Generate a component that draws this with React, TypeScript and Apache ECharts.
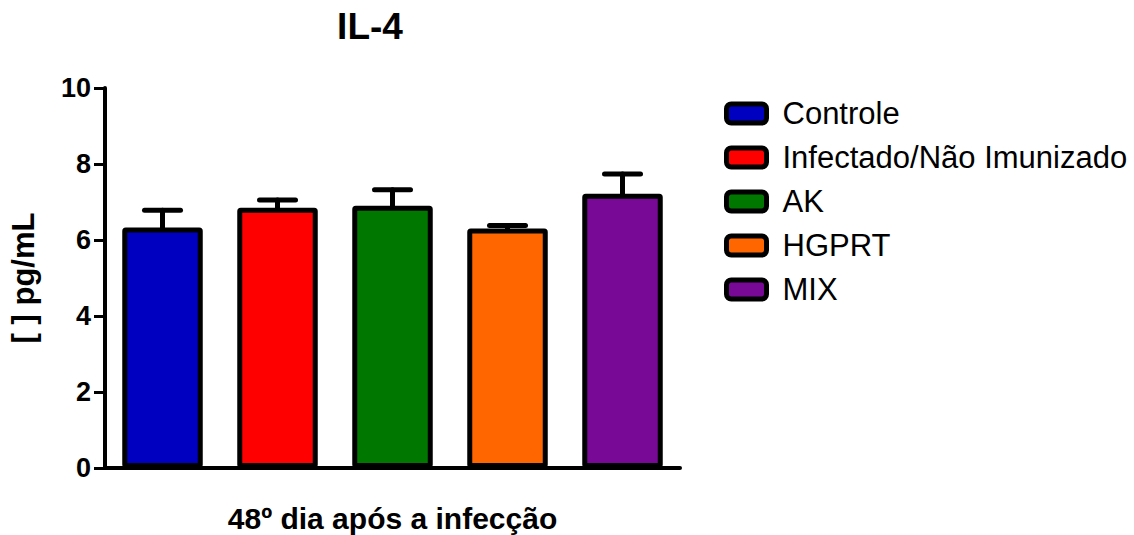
import React, { useEffect, useRef } from "react";
import * as echarts from "echarts";

const categories = ["Controle", "Infectado/Não Imunizado", "AK", "HGPRT", "MIX"];
const means = [6.33, 6.85, 6.9, 6.3, 7.22];
const errors = [0.45, 0.2, 0.42, 0.08, 0.52];
const colors = ["#0000C0", "#FF0000", "#007800", "#FF6600", "#780896"];
const yTicks = [0, 2, 4, 6, 8, 10];

export default function App() {
  const ref = useRef<HTMLDivElement>(null);
  useEffect(() => {
    if (!ref.current) return;
    const chart = echarts.init(ref.current, null, { renderer: "svg" });
    const font = "'Liberation Sans', Arial, sans-serif";
    const barSeries = categories.map((name, i) => ({
      name,
      type: "bar",
      barGap: "-100%",
      barCategoryGap: "30%",
      data: categories.map((_, j) => (j === i ? means[i] : "-")),
      itemStyle: { color: colors[i], borderColor: "#000", borderWidth: 5, borderRadius: 1 },
      z: 3,
    }));
    const errSeries = {
      type: "custom",
      name: "err",
      z: 2,
      data: means.map((m, i) => [i, m, m + errors[i]]),
      renderItem: (params: any, api: any) => {
        const x = api.value(0);
        const top = api.coord([x, api.value(1)]);
        const hi = api.coord([x, api.value(2)]);
        const style = { stroke: "#000", lineWidth: 5, lineCap: "round" };
        return {
          type: "group",
          children: [
            { type: "line", shape: { x1: top[0], y1: top[1], x2: hi[0], y2: hi[1] }, style },
            { type: "line", shape: { x1: hi[0] - 18, y1: hi[1], x2: hi[0] + 18, y2: hi[1] }, style },
          ],
        };
      },
    };
    chart.setOption({
      animation: false,
      title: {
        text: "IL-4",
        left: 365,
        textAlign: "center",
        top: 3,
        textStyle: { fontFamily: font, fontWeight: "bold", fontSize: 37, color: "#000" },
      },
      legend: {
        orient: "vertical",
        left: 719,
        top: 93,
        itemWidth: 40,
        itemHeight: 19,
        itemGap: 13,
        icon: "roundRect",
        data: categories,
        itemStyle: { borderColor: "#000", borderWidth: 5 },
        textStyle: { fontFamily: font, fontSize: 31, color: "#000", padding: [0, 0, 0, 11] },
      },
      grid: { left: 105, right: 454, top: 88, bottom: 67, outerBoundsMode: "none", containLabel: false },
      xAxis: {
        type: "category",
        data: categories,
        name: "48º dia após a infecção",
        nameLocation: "middle",
        nameGap: 37,
        nameTextStyle: { fontFamily: font, fontWeight: "bold", fontSize: 30, lineHeight: 26, color: "#000" },
        axisLine: { lineStyle: { color: "#000", width: 4 } },
        axisTick: { alignWithLabel: true, length: 10, lineStyle: { color: "#000", width: 3 } },
        axisLabel: { show: false },
      },
      yAxis: {
        type: "value",
        min: yTicks[0],
        max: yTicks[yTicks.length - 1],
        interval: 2,
        name: "[ ] pg/mL",
        nameLocation: "middle",
        nameGap: 66,
        nameTextStyle: { fontFamily: font, fontWeight: "bold", fontSize: 31, color: "#000" },
        axisLine: { show: true, lineStyle: { color: "#000", width: 4 } },
        axisTick: { show: true, length: 11, lineStyle: { color: "#000", width: 3 } },
        axisLabel: { fontFamily: font, fontWeight: "bold", fontSize: 27, color: "#000", margin: 14 },
        splitLine: { show: false },
      },
      series: [...barSeries, errSeries],
    });
    return () => chart.dispose();
  }, []);
  return (
    <div
      ref={ref}
      style={{ position: "absolute", left: 0, top: 0, width: 1134, height: 535 }}
    />
  );
}
